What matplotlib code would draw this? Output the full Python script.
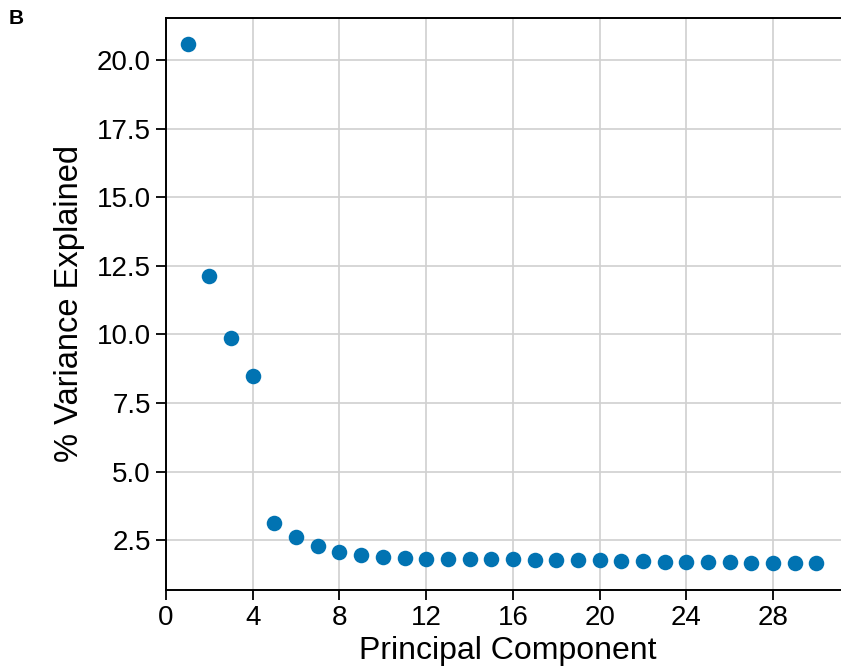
import matplotlib.pyplot as plt
import numpy as np

plt.rcParams["font.family"] = ["Liberation Sans", "DejaVu Sans"]

components = np.arange(1, 31)
variance = [20.57, 12.12, 9.87, 8.48, 3.11, 2.60, 2.29, 2.07, 1.95, 1.89,
            1.85, 1.82, 1.82, 1.81, 1.80, 1.80, 1.78, 1.77, 1.76, 1.76,
            1.74, 1.73, 1.72, 1.71, 1.71, 1.70, 1.68, 1.68, 1.68, 1.66]
xticks = [0, 4, 8, 12, 16, 20, 24, 28]
yticks = [2.5, 5.0, 7.5, 10.0, 12.5, 15.0, 17.5, 20.0]

fig = plt.figure(figsize=(8.41, 6.69), dpi=100)
# axes run past the right edge, like the cropped original
ax = fig.add_axes([166 / 841, 1 - 589.5 / 669, (849 - 166) / 841, (589.5 - 18) / 669])

ax.scatter(components, variance, s=125, color="#0173b2", zorder=3, linewidths=0)

ax.set_xlim(0, 31.5)
ax.set_ylim(0.70, 21.53)
ax.set_xticks(xticks)
ax.set_yticks(yticks)
ax.set_yticklabels([f"{v:.1f}" for v in yticks])
ax.grid(True, color="#d0d0d0", linewidth=1.2)
ax.set_axisbelow(True)
ax.tick_params(labelsize=20, length=7, width=1.3, direction="out", pad=4)
for sp in ax.spines.values():
    sp.set_linewidth(1.4)

ax.set_xlabel("Principal Component", fontsize=23, labelpad=4)
ax.set_ylabel("% Variance Explained", fontsize=23.5, labelpad=8)

fig.text(9 / 841, 1 - 19 / 669, "B", fontsize=15, fontweight="bold", va="center")

fig.savefig("out.png", dpi=100)
